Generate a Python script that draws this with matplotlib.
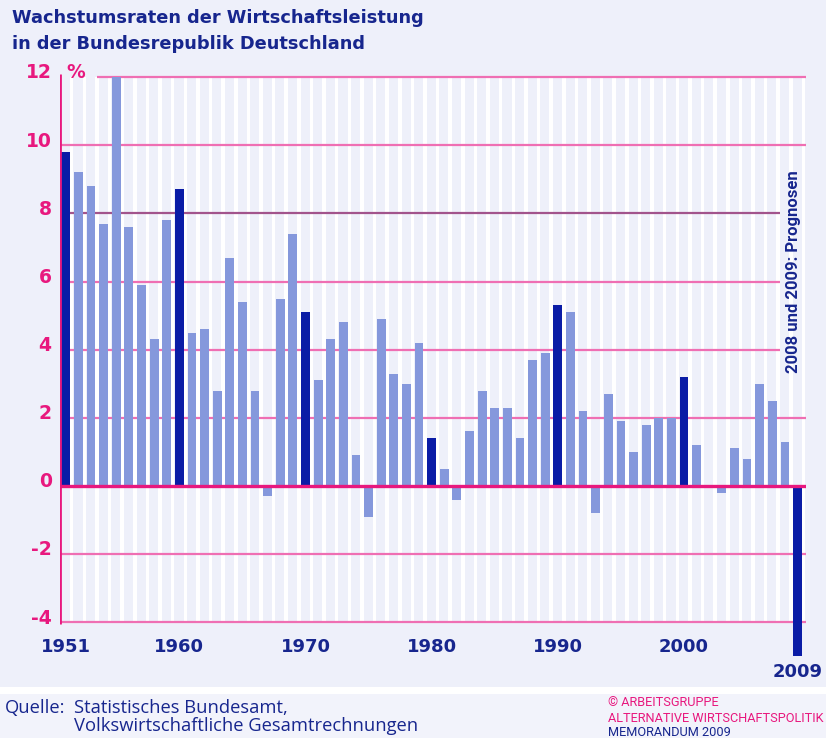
import matplotlib
matplotlib.use('Agg')
import matplotlib.pyplot as plt
from matplotlib.patches import Rectangle
import numpy as np

# data: annual GDP growth, %
years = list(range(1951, 2010))
growth = [9.8, 9.2, 8.8, 7.7, 12.0, 7.6, 5.9, 4.3, 7.8, 8.7,
          4.5, 4.6, 2.8, 6.7, 5.4, 2.8, -0.3, 5.5, 7.4, 5.1,
          3.1, 4.3, 4.8, 0.9, -0.9, 4.9, 3.3, 3.0, 4.2, 1.4,
          0.5, -0.4, 1.6, 2.8, 2.3, 2.3, 1.4, 3.7, 3.9, 5.3,
          5.1, 2.2, -0.8, 2.7, 1.9, 1.0, 1.8, 2.0, 2.0, 3.2,
          1.2, 0.0, -0.2, 1.1, 0.8, 3.0, 2.5, 1.3, -5.0]
highlight_years = [1951, 1960, 1970, 1980, 1990, 2000, 2009]
year_labels = [1951, 1960, 1970, 1980, 1990, 2000]
y_ticks = [12, 10, 8, 6, 4, 2, 0, -2, -4]

BG = '#eef0fa'
LIGHT = '#8598dc'
DARK = '#0a1ca6'
PINK = '#ef6fb3'
MAGENTA = '#e8187e'
MAUVE = '#a2548c'
NAVY = '#17268e'

W, H = 826, 738
fig = plt.figure(figsize=(W / 100, H / 100), dpi=100, facecolor=BG)

# footer band
fig.patches.append(Rectangle((0, 0), 1, 1 - 694 / H, transform=fig.transFigure,
                             facecolor='#f2f3fb', edgecolor='none', zorder=0))
fig.patches.append(Rectangle((0, 1 - 694 / H), 1, 7 / H, transform=fig.transFigure,
                             facecolor='white', edgecolor='none', zorder=0))

# axes placed so that x 1950.54..2009.67 -> px 60..806, y -5.5..12.5 -> px 673..60
ax = fig.add_axes([60 / W, (H - 673.4) / H, 746 / W, 613.4 / H])
ax.set_facecolor('none')
ax.set_xlim(1950.54, 2009.67)
ax.set_ylim(-5.5, 12.5)
ax.axis('off')

# white stripes between years
stripe_x = np.array(years) + 0.47
ax.bar(stripe_x, 16, bottom=-4, width=0.28, color='white', zorder=1)

# horizontal lines
short_end = 2007.6
for v in y_ticks:
    if v == 0:
        continue
    x0 = 1953.47 if v == 12 else 1950.54
    x1 = short_end if v in (8, 6, 4) else 2009.67
    col = MAUVE if v == 8 else PINK
    ax.hlines(v, x0, x1, color=col, lw=1.6, zorder=2)

# bars
colors = [DARK if y in highlight_years else LIGHT for y in years]
ax.bar(years, growth, width=0.7, color=colors, zorder=3)

# zero line and left axis
ax.hlines(0, 1950.54, 2009.67, color=MAGENTA, lw=2.4, zorder=4)
ax.vlines(1950.54, -4.05, 12.1, color=MAGENTA, lw=2.0, zorder=4)

# y tick labels
for v in y_ticks:
    ax.annotate(str(v), xy=(0, v), xycoords=('axes fraction', 'data'),
                xytext=(-6, 3), textcoords='offset points',
                ha='right', va='center', color=MAGENTA,
                fontsize=13.5, fontweight='bold')
ax.annotate('%', xy=(0, 12), xycoords=('axes fraction', 'data'),
            xytext=(4.5, 3), textcoords='offset points',
            ha='left', va='center', color=MAGENTA, fontsize=13.5, fontweight='bold')

# x labels
for yr in year_labels:
    ax.annotate(str(yr), xy=(yr, -4), xycoords='data', xytext=(0, -17.5),
                textcoords='offset points', ha='center', va='center',
                color=NAVY, fontsize=13, fontweight='bold')
ax.annotate('2009', xy=(2009, -4), xycoords='data', xytext=(0, -36),
            textcoords='offset points', ha='center', va='center',
            color=NAVY, fontsize=13, fontweight='bold')

# rotated forecast note
ax.text(2008.65, 6.28, '2008 und 2009: Prognosen', rotation=90,
        ha='center', va='center', color=NAVY, fontsize=12, fontweight='bold',
        family='Roboto', zorder=5)

# title
fig.text(12 / W, 1 - 18 / H, 'Wachstumsraten der Wirtschaftsleistung',
         ha='left', va='center', color=NAVY, fontsize=12.8, fontweight='bold')
fig.text(12 / W, 1 - 44 / H, 'in der Bundesrepublik Deutschland',
         ha='left', va='center', color=NAVY, fontsize=12.8, fontweight='bold')

# footer
fig.text(5 / W, 1 - 708 / H, 'Quelle:', ha='left', va='center',
         color=NAVY, fontsize=13.2, family='Open Sans')
fig.text(74 / W, 1 - 708 / H, 'Statistisches Bundesamt,', ha='left', va='center',
         color=NAVY, fontsize=13.2, family='Open Sans')
fig.text(74 / W, 1 - 726 / H, 'Volkswirtschaftliche Gesamtrechnungen', ha='left',
         va='center', color=NAVY, fontsize=13.2, family='Open Sans')

fig.text(608 / W, 1 - 703 / H, '© ARBEITSGRUPPE', ha='left', va='center',
         color=MAGENTA, fontsize=9.2, family='Roboto')
fig.text(608 / W, 1 - 718 / H, 'ALTERNATIVE WIRTSCHAFTSPOLITIK', ha='left',
         va='center', color=MAGENTA, fontsize=9.2, family='Roboto')
fig.text(608 / W, 1 - 732 / H, 'MEMORANDUM 2009', ha='left', va='center',
         color=NAVY, fontsize=9.2, family='Roboto')

fig.savefig('out.png', dpi=100, facecolor=BG)
